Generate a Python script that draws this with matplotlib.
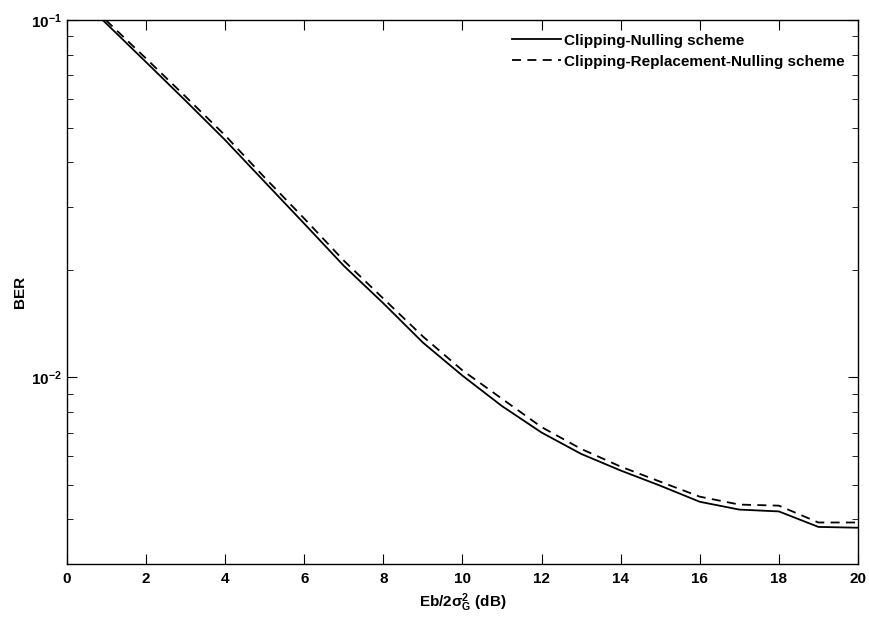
import matplotlib
matplotlib.use("Agg")
import matplotlib.pyplot as plt
from matplotlib.ticker import LogLocator, NullFormatter

plt.rcParams["font.family"] = ["Liberation Sans", "DejaVu Sans"]
plt.rcParams["font.weight"] = "bold"
plt.rcParams["axes.labelweight"] = "bold"
plt.rcParams["mathtext.fontset"] = "custom"
plt.rcParams["mathtext.rm"] = "Liberation Sans:bold"
plt.rcParams["mathtext.it"] = "Liberation Sans:bold"
plt.rcParams["mathtext.default"] = "rm"

# ===== DATA =====
snr_db = [0, 1, 2, 3, 4, 5, 6, 7, 8, 9, 10, 11, 12, 13, 14, 15, 16, 17, 18, 19, 20]
ber_cn = [0.125, 0.0976, 0.0762, 0.0594, 0.0461, 0.0352, 0.0269, 0.0205, 0.0161,
          0.0125, 0.0101, 0.0083, 0.0070, 0.0061, 0.00548, 0.00497, 0.00448,
          0.00426, 0.00421, 0.00381, 0.00379]
ber_crn = [0.127, 0.0995, 0.0780, 0.0610, 0.0475, 0.0362, 0.0278, 0.0212, 0.0166,
           0.0130, 0.01045, 0.0087, 0.00725, 0.0063, 0.00562, 0.0051, 0.00463,
           0.00440, 0.00437, 0.00392, 0.00392]
labels = ["Clipping-Nulling scheme", "Clipping-Replacement-Nulling scheme"]

# ===== PLOT =====
fig = plt.figure(figsize=(8.69, 6.21), dpi=100)
ax = fig.add_axes([0.0771, 0.0918, 0.9102, 0.876])

ax.semilogy(snr_db, ber_cn, color="black", lw=1.3, label=labels[0])
ax.semilogy(snr_db, ber_crn, color="black", lw=1.3, dashes=(5, 3.5), label=labels[1])

ax.set_xlim(0, 20)
ax.set_ylim(3e-3, 1e-1)
ax.set_xticks(range(0, 21, 2))
ax.yaxis.set_minor_locator(LogLocator(base=10, subs=range(2, 10)))
ax.yaxis.set_minor_formatter(NullFormatter())

ax.tick_params(which="both", direction="in", top=True, right=True, labelsize=11)
ax.tick_params(axis="x", pad=6)
ax.tick_params(which="major", length=7)
ax.tick_params(which="minor", length=4)
for s in ax.spines.values():
    s.set_linewidth(1.0)

ax.set_xlabel(r"Eb/2$\sigma_G^2$ (dB)", fontsize=11, labelpad=4)
ax.set_ylabel("BER", fontsize=11, labelpad=3)

ax.legend(loc="upper right", frameon=False, fontsize=11, handlelength=3.2,
          handletextpad=0.15, labelspacing=0.45, borderaxespad=0.5)

fig.savefig("out.png", dpi=100)
